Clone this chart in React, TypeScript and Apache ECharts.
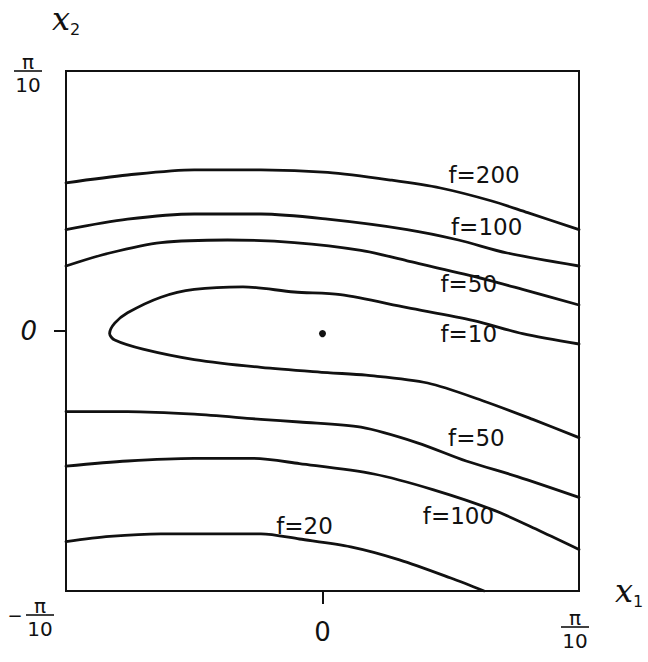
import React, { useEffect, useRef } from "react";
import * as echarts from "echarts";

// Axis range in units of pi/10 (x1, x2 from -pi/10 to pi/10)
const X_MIN = -1;
const X_MAX = 1;
const Y_MIN = -1;
const Y_MAX = 1;

// Contour curves [x1, x2] in units of pi/10
const f200 = [[-1, 0.57], [-0.76, 0.6], [-0.5, 0.62], [-0.24, 0.62], [0.02, 0.61], [0.27, 0.58], [0.46, 0.55], [0.66, 0.5], [0.8, 0.455], [1, 0.39]];
const f100Upper = [[-1, 0.39], [-0.76, 0.43], [-0.5, 0.45], [-0.24, 0.45], [0.02, 0.43], [0.33, 0.39], [0.53, 0.35], [0.72, 0.3], [1, 0.25]];
const f50Upper = [[-1, 0.25], [-0.83, 0.3], [-0.63, 0.34], [-0.37, 0.35], [-0.11, 0.34], [0.15, 0.31], [0.33, 0.27], [0.59, 0.21], [0.78, 0.16], [1, 0.1]];
const f10Loop = [[1, -0.05], [0.78, -0.01], [0.59, 0.04], [0.33, 0.09], [0.07, 0.14], [-0.11, 0.15], [-0.31, 0.17], [-0.5, 0.16], [-0.63, 0.13], [-0.76, 0.07], [-0.81, 0.03], [-0.83, -0.01], [-0.81, -0.035], [-0.7, -0.07], [-0.5, -0.11], [-0.24, -0.14], [0.02, -0.16], [0.17, -0.17], [0.41, -0.2], [0.63, -0.27], [0.82, -0.34], [1, -0.41]];
const f50Lower = [[-1, -0.31], [-0.76, -0.31], [-0.5, -0.32], [-0.24, -0.34], [-0.09, -0.35], [0.15, -0.37], [0.37, -0.43], [0.56, -0.5], [0.76, -0.56], [1, -0.64]];
const f100Lower = [[-1, -0.52], [-0.76, -0.5], [-0.5, -0.49], [-0.27, -0.49], [-0.09, -0.51], [0.2, -0.55], [0.43, -0.61], [0.67, -0.69], [0.85, -0.77], [1, -0.84]];
const f20 = [[-1, -0.81], [-0.83, -0.79], [-0.63, -0.78], [-0.24, -0.78], [-0.09, -0.8], [0.11, -0.83], [0.3, -0.88], [0.5, -0.95], [0.63, -1]];

const curves = [f200, f100Upper, f50Upper, f10Loop, f50Lower, f100Lower, f20];

// Contour labels
const labelTexts = ["f=200", "f=100", "f=50", "f=10", "f=50", "f=100", "f=20"];
const labelX = [0.63, 0.64, 0.57, 0.57, 0.6, 0.53, -0.07];
const labelY = [0.6, 0.4, 0.18, -0.01, -0.41, -0.71, -0.75];

// Minimum point
const minimumPoint = [0, -0.01];

const INK = "#111";
const HAND = "'DejaVu Sans', sans-serif";

function fraction(cx: number, lineY: number, minus: boolean) {
  const children: any[] = [
    {
      type: "text",
      x: cx,
      y: lineY - 9,
      style: { text: "π", fill: INK, font: `20px ${HAND}`, align: "center", verticalAlign: "middle" },
    },
    {
      type: "line",
      shape: { x1: cx - 14, y1: lineY, x2: cx + 14, y2: lineY },
      style: { stroke: INK, lineWidth: 1.6 },
    },
    {
      type: "text",
      x: cx,
      y: lineY + 14,
      style: { text: "10", fill: INK, font: `20px ${HAND}`, align: "center", verticalAlign: "middle" },
    },
  ];
  if (minus) {
    children.push({
      type: "text",
      x: cx - 25,
      y: lineY,
      style: { text: "−", fill: INK, font: `18px ${HAND}`, align: "center", verticalAlign: "middle" },
    });
  }
  return { type: "group", children };
}

const nameRich = {
  x: { fontFamily: "'DejaVu Serif', serif", fontStyle: "italic", fontSize: 32, color: INK, lineHeight: 36 },
  s: { fontFamily: HAND, fontSize: 16, color: INK, verticalAlign: "bottom" },
};

export default function App() {
  const ref = useRef<HTMLDivElement>(null);
  useEffect(() => {
    const el = ref.current;
    if (!el) return;
    const chart = echarts.init(el, null, { renderer: "svg" });
    const lineSeries = curves.map((c) => ({
      type: "line",
      data: c,
      showSymbol: false,
      smooth: 0.3,
      lineStyle: { color: INK, width: 2.8, cap: "round", join: "round" },
      z: 3,
    }));
    const option: any = {
      animation: false,
      backgroundColor: "#fff",
      grid: {
        left: 66,
        top: 71,
        width: 513,
        height: 520,
        show: true,
        borderColor: INK,
        borderWidth: 2,
        backgroundColor: "transparent",
      },
      xAxis: {
        type: "value",
        min: X_MIN,
        max: X_MAX,
        interval: 1,
        name: "{x|x}{s|1}",
        nameLocation: "end",
        nameGap: 36,
        nameTextStyle: { rich: nameRich },
        axisLine: { show: true, onZero: false, lineStyle: { color: INK, width: 2 } },
        axisTick: { show: true, customValues: [0], length: 13, lineStyle: { color: INK, width: 2 } },
        axisLabel: {
          show: true,
          customValues: [0],
          formatter: (v: number) => (v === 0 ? "0" : ""),
          margin: 28,
          fontSize: 26,
          fontFamily: HAND,
          color: INK,
        },
        splitLine: { show: false },
      },
      yAxis: {
        type: "value",
        min: Y_MIN,
        max: Y_MAX,
        interval: 1,
        name: "{x|x}{s|2}",
        nameLocation: "end",
        nameGap: 34,
        nameTextStyle: { rich: nameRich },
        axisLine: { show: true, onZero: false, lineStyle: { color: INK, width: 2 } },
        axisTick: { show: true, customValues: [0], length: 12, lineStyle: { color: INK, width: 2 } },
        axisLabel: {
          show: true,
          customValues: [0],
          formatter: (v: number) => (v === 0 ? "0" : ""),
          margin: 29,
          fontSize: 26,
          fontStyle: "italic",
          fontFamily: HAND,
          color: INK,
        },
        splitLine: { show: false },
      },
      series: [
        ...lineSeries,
        {
          type: "scatter",
          data: [minimumPoint],
          symbolSize: 7,
          itemStyle: { color: INK, opacity: 1 },
          z: 4,
        },
        {
          type: "scatter",
          data: labelTexts.map((t, i) => ({ value: [labelX[i], labelY[i]], name: t })),
          symbolSize: 0,
          itemStyle: { color: INK, opacity: 1 },
          label: {
            show: true,
            position: "inside",
            formatter: (p: any) => p.name,
            fontFamily: HAND,
            fontSize: 23,
            color: INK,
            opacity: 1,
            textBorderWidth: 0,
          },
          z: 5,
        },
      ],
    };
    chart.setOption(option);
    const [xl, yb] = chart.convertToPixel({ gridIndex: 0 }, [X_MIN, Y_MIN]) as number[];
    const [xr, yt] = chart.convertToPixel({ gridIndex: 0 }, [X_MAX, Y_MAX]) as number[];
    chart.setOption({
      graphic: [
        fraction(xl - 38, yt, false),
        fraction(xl - 26, yb + 24, true),
        fraction(xr - 4, yb + 36, false),
      ],
    });
    return () => chart.dispose();
  }, []);
  return (
    <div
      ref={ref}
      style={{ position: "fixed", left: 0, top: 0, width: 648, height: 662, background: "#fff" }}
    />
  );
}
